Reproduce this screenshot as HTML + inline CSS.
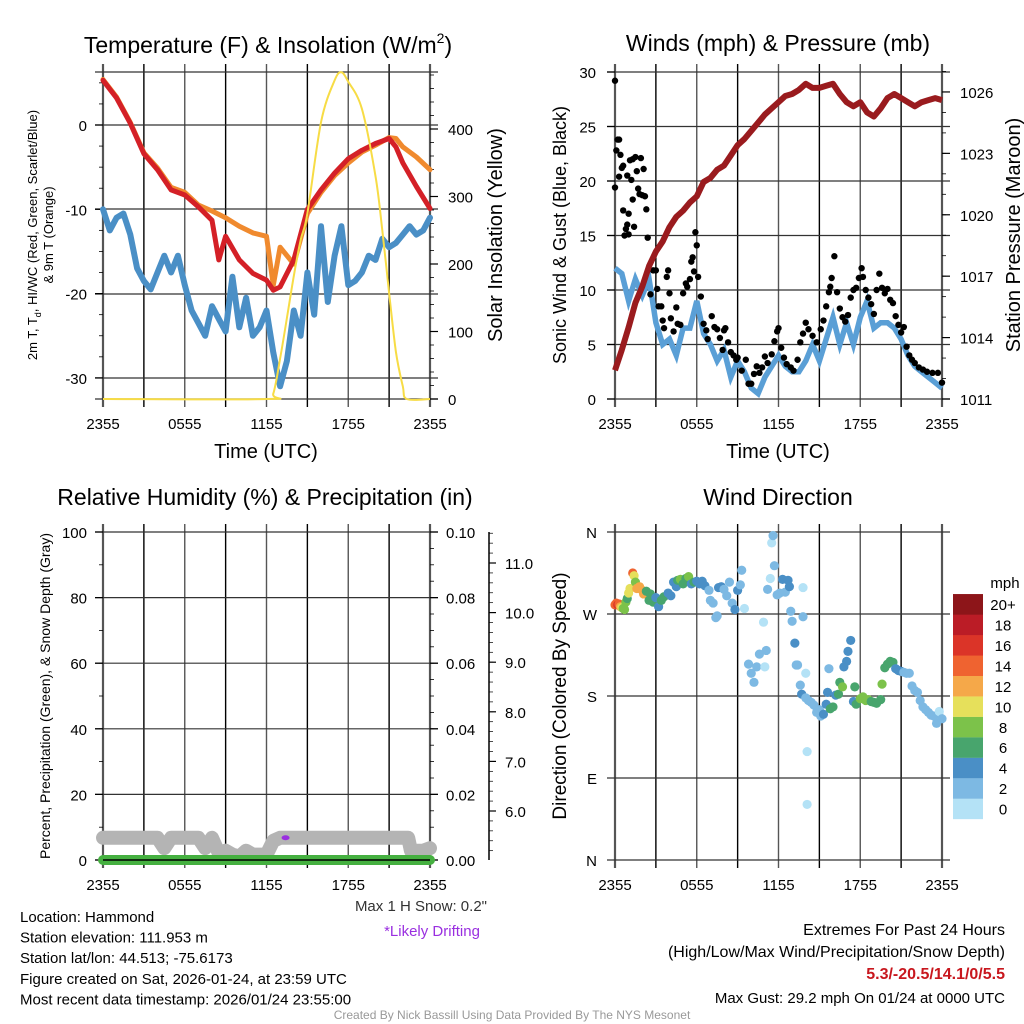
<!DOCTYPE html>
<html><head><meta charset="utf-8">
<style>
html,body{margin:0;padding:0;background:#fff;}
svg{display:block;font-family:"Liberation Sans",sans-serif;}
</style></head>
<body>
<svg id="c" width="1024" height="1024" viewBox="0 0 1024 1024" xmlns="http://www.w3.org/2000/svg"></svg>
<script>
// ---------- DATA ----------
const timeLabels = ["2355","0555","1155","1755","2355"];
const tempTimes = [0,1,2,3,4,5,6,7,8,8.5,9,10,11,12,12.5,13,14,15,16,17,18,19,20,21,21.5,22,23,24];
const tempRed   = [5.3,3.2,0.2,-3.4,-5.3,-7.7,-8.3,-9.7,-11.3,-16,-13.2,-16,-17.6,-18.4,-19.6,-19.2,-16,-10,-7.7,-5.7,-4,-3,-2.2,-1.6,-2.6,-4.5,-7.3,-9.9];
const tempOrange= [5.4,3.3,0.3,-3.3,-5.1,-7.4,-8.0,-9.5,-10.2,-10.6,-11,-12,-12.8,-13.2,-19,-14.5,-16.5,-10.5,-8,-6,-4.5,-3.2,-2.4,-1.5,-1.6,-2.6,-3.8,-5.3];
const dewTimes = [0,0.5,1,1.5,2,2.5,3,3.5,4,4.5,5,5.5,6,6.5,7,7.5,8,8.5,9,9.5,10,10.5,11,11.5,12,12.5,13,13.5,14,14.5,15,15.5,16,16.5,17,17.5,18,18.5,19,19.5,20,20.5,21,21.5,22,22.5,23,23.5,24];
const dewBlue  = [-10,-12.5,-11,-10.5,-13,-17,-18.5,-19.5,-17.5,-15.5,-17.5,-15.5,-19,-22,-23.5,-25,-21.5,-23,-24.5,-18,-24,-20.5,-25,-24,-22,-27,-31,-28,-22,-25,-17.5,-22.5,-12,-21,-15.5,-12,-19,-18.5,-17.5,-15.5,-16,-13.5,-14.5,-14,-13,-12,-13,-12.5,-11];
const solarTimes = [0,12,12.5,13,13.5,14,14.5,15,16,17,17.5,18,19,20,20.5,21,21.5,22,22.3,24];
const solarVals  = [0,0,8,60,120,182,235,275,410,472,484,470,430,330,250,157,70,19,0,0];
const tempTicks = [0,-10,-20,-30];
const solarTicks = [0,100,200,300,400];
const windTimes = [0,0.5,1,1.5,2,2.5,3,3.5,4,4.5,5,5.5,6,6.5,7,7.5,8,8.5,9,9.5,10,10.5,11,11.5,12,12.5,13,13.5,14,14.5,15,15.5,16,16.5,17,17.5,18,18.5,19,19.5,20,20.5,21,21.5,22,22.5,23,23.5,24];
const windSpeed = [12,11.5,9,11,9.5,11,7,5,5.5,4,6.5,6.5,9,6,5,3.5,4.5,2,3.5,2.5,1,0.5,2,3,4,3,2.5,2.5,3.5,5,3.5,5.5,7.5,5,7,5,7.5,9,6.5,7,7,6.5,5.5,4,3,2.5,2,1.5,1];
const pressure  = [1012.4,1013.4,1014.5,1015.7,1016.5,1017.5,1018.2,1018.7,1019.4,1019.9,1020.2,1020.6,1020.9,1021.6,1021.8,1022.2,1022.4,1022.9,1023.4,1023.7,1024.1,1024.5,1024.9,1025.2,1025.5,1025.8,1025.9,1026.1,1026.4,1026.2,1026.2,1026.3,1026.4,1025.9,1025.5,1025.3,1025.5,1025.0,1024.8,1025.2,1025.7,1025.9,1025.7,1025.5,1025.3,1025.5,1025.6,1025.7,1025.6];
const gustTimes = [0,0,0.1,0.2,0.3,0.3,0.4,0.5,0.6,0.6,0.7,0.8,0.9,0.9,1.0,1.0,1.1,1.2,1.3,1.3,1.4,1.5,1.6,1.7,1.8,1.9,2.0,2.1,2.2,2.3,2.4,2.6,2.8,3.0,3.1,3.2,3.4,3.5,3.6,3.8,3.9,4.0,4.1,4.3,4.5,4.6,4.8,5.0,5.2,5.3,5.5,5.6,5.7,5.8,5.9,6.0,6.1,6.3,6.5,6.7,6.8,7.1,7.3,7.5,7.7,7.9,8.0,8.1,8.3,8.5,8.7,8.9,9.0,9.3,9.6,9.8,10.0,10.2,10.4,10.6,10.8,11.0,11.2,11.5,11.7,11.9,12.0,12.2,12.4,12.6,12.9,13.1,13.4,13.6,13.8,14.0,14.2,14.5,14.8,15.1,15.3,15.5,15.7,15.8,15.9,16.1,16.3,16.5,16.7,16.9,17.1,17.3,17.5,17.7,17.9,18.1,18.2,18.4,18.6,18.8,19.0,19.2,19.4,19.6,19.8,20.0,20.2,20.4,20.6,20.8,21.0,21.2,21.4,21.6,21.8,22.0,22.3,22.6,22.9,23.3,23.7,24];
const gustVals  = [29.2,19.4,22.8,23.8,23.8,20.4,22.4,21.2,21.4,17.3,15,15.6,16,20.5,17,15.1,21.9,20.1,22,18.3,15.8,22.2,20.9,19.3,18.8,22.1,18.7,21.1,18.6,17.4,14.8,9.6,11.8,11.8,10.1,8.5,8.5,7.2,6.5,11.2,11.8,9.7,7.4,6.2,8.4,6.9,6.8,9.7,10.6,10.3,11,12.6,13,11.7,15.3,14.1,11.2,9.4,6.9,6.3,5.5,7.6,6.6,6.4,5.6,4.5,6.3,6.5,5.2,4.3,4.0,3.6,3.8,2.6,3.6,1.4,1.4,2.3,3.0,2.4,2.9,3.9,3.3,4.1,5.3,6.2,6.5,4.7,3.8,3.2,2.9,2.6,3.6,5.2,6.0,7.0,6.4,5.8,5.2,6.4,7.2,8.5,9.8,10.3,11.1,13.1,9.8,8.3,7.5,7.1,7.7,9.3,10,10.2,11.1,12,11.2,10,9.3,8.7,7.8,10,11.5,10.2,9.7,10.1,9.1,8.8,7.6,6.8,6.1,6.6,4.8,4.0,3.6,3.3,2.9,2.7,2.5,2.4,2.4,1.5];
const windTicks = [0,5,10,15,20,25,30];
const pressTicks = [1011,1014,1017,1020,1023,1026];
const snowTimes = [0,4,4.5,5,7,7.5,8,8.5,9,9.5,10,10.5,11,12,12.5,13,22,22.4,22.6,23.5,24];
const snowDepth = [5.46,5.46,5.25,5.46,5.46,5.25,5.46,5.15,5.2,5.12,5.08,5.2,5.12,5.12,5.4,5.46,5.46,5.46,5.2,5.2,5.25];
const precipTimes = [0,24];
const precipVals = [0,0];
const rhTicks = [0,20,40,60,80,100];
const precipTicks = ["0.00","0.02","0.04","0.06","0.08","0.10"];
const snowTicks = [6,7,8,9,10,11];
const dirTimes = [0,0.1,0.2,0.3,0.4,0.5,0.6,0.7,0.8,0.9,1.0,1.1,1.3,1.4,1.5,1.6,1.8,2.0,2.1,2.3,2.5,2.6,2.8,3.0,3.2,3.4,3.6,3.9,4.1,4.3,4.5,4.6,4.8,5.0,5.2,5.4,5.6,5.8,6.0,6.2,6.4,6.6,6.9,7.0,7.2,7.4,7.5,7.6,7.8,8.0,8.2,8.4,8.6,8.8,9.0,9.2,9.3,9.5,9.8,10.0,10.2,10.4,10.6,10.9,11.0,11.1,11.2,11.4,11.5,11.6,11.7,11.9,12.1,12.3,12.5,12.7,12.8,12.9,13.0,13.2,13.3,13.4,13.6,13.8,13.7,13.8,14.1,14.0,14.1,14.0,14.2,14.4,14.6,14.8,15.0,15.1,15.3,15.5,15.6,15.7,15.8,16.0,16.2,16.4,16.5,16.7,16.8,17.0,17.1,17.3,17.5,17.6,17.7,18.0,18.2,18.4,18.6,18.8,19.0,19.2,19.5,19.6,19.8,20.0,20.2,20.4,20.6,20.8,21.0,21.2,21.4,21.6,21.8,22.0,22.2,22.4,22.6,22.8,23.0,23.2,23.4,23.6,23.8,24];
const dirDeg = [280,282,280,281,278,277,276,275,283,287,293,298,315,312,305,298,300,296,292,295,285,292,283,288,278,285,289,293,290,305,300,307,308,303,309,311,303,305,306,303,306,301,296,285,282,266,268,299,300,297,290,305,282,275,296,302,318,276,215,205,195,212,226,261,212,230,297,309,348,356,323,291,293,308,294,307,300,273,262,238,214,214,192,299,182,267,119,205,61,178,175,173,170,162,165,158,160,171,184,210,166,168,181,182,195,190,212,218,229,241,174,190,171,177,179,175,176,174,173,172,176,193,211,215,218,217,210,208,207,206,205,205,191,186,184,175,168,165,162,159,158,150,163,155];
const dirSpeed = [14,15,16,14,12,10,9,8,8,7,10,11,14,10,9,12,12,13,12,6,6,7,6,5,4,6,6,5,4,4,5,6,8,6,7,9,4,7,4,4,4,4,2,2,3,2,3,4,4,2,2,3,2,4,4,2,2,1,3,2,2,2,2,1,1,3,3,1,1,2,2,2,3,4,3,4,4,3,3,4,3,2,3,1,4,2,1,1,1,2,2,2,2,2,3,3,4,4,4,2,7,7,4,6,6,8,4,4,4,4,4,6,6,8,8,8,8,6,6,6,6,8,6,6,6,6,4,4,4,2,2,2,2,2,2,2,2,2,2,2,2,2,1,2,2];
const speedBins = ["0","2","4","6","8","10","12","14","16","18","20+"];
const binColors = ["#b4e2f6","#7db9e3","#4a8fc6","#48a56d","#7cc24a","#e6e05b","#f5a849","#ef6330","#db3428","#bb1c26","#8d1519"];

// ---------- HELPERS ----------
const S = document.getElementById('c');
const NS = "http://www.w3.org/2000/svg";
function mk(tag, attrs, parent){
  const e = document.createElementNS(NS, tag);
  for (const k in attrs) e.setAttribute(k, attrs[k]);
  (parent||S).appendChild(e);
  return e;
}
function txt(x,y,s,size,anchor,extra){
  const e = mk('text', Object.assign({x:x,y:y,'font-size':size,'text-anchor':anchor||'middle',fill:'#000'}, extra||{}));
  e.textContent = s;
  return e;
}
function line(x1,y1,x2,y2,col,w,p){ return mk('line',{x1:x1,y1:y1,x2:x2,y2:y2,stroke:col,'stroke-width':w},p); }
function pathFrom(xs,ys,fx,fy){ return xs.map((t,i)=>(i?'L':'M')+fx(t).toFixed(1)+','+fy(ys[i]).toFixed(1)).join(''); }
function smoothPath(xs,ys,fx,fy){
  const P = xs.map((t,i)=>[fx(t),fy(ys[i])]);
  let d = 'M'+P[0][0].toFixed(1)+','+P[0][1].toFixed(1);
  for (let i=0;i<P.length-1;i++){
    const p0=P[Math.max(0,i-1)], p1=P[i], p2=P[i+1], p3=P[Math.min(P.length-1,i+2)];
    const c1=[p1[0]+(p2[0]-p0[0])/6, p1[1]+(p2[1]-p0[1])/6];
    const c2=[p2[0]-(p3[0]-p1[0])/6, p2[1]-(p3[1]-p1[1])/6];
    d += 'C'+c1.map(v=>v.toFixed(1)).join(',')+' '+c2.map(v=>v.toFixed(1)).join(',')+' '+p2[0].toFixed(1)+','+p2[1].toFixed(1);
  }
  return d;
}

const X0 = {tl:103, tr:615, bl:103, br:615};
const PW = 327;
function xs(panel){ return t => X0[panel] + t*PW/24; }

function grid(panel, top, bot, hys, gname){
  const g = mk('g',{});
  
  
  const fx = xs(panel);
  for (let i=0;i<=8;i++){
    const x = fx(i*3);
    line(x, top-8, x, bot+8, (i%2)?'#000':'#555', (i===0||i===8)?2.2:1.4, g);
  }
  hys.forEach(y=>line(fx(0)-8,y,fx(24)+8,y,'#333',1.2,g));
  for (let i=0;i<5;i++){
    const tl = txt(fx(i*6), bot+30, timeLabels[i], 15);
    
    
  }
  return g;
}

// ---------- TITLES ----------
let t;
t = txt(268,53,'Temperature (F) & Insolation (W/m',23);
const sup = mk('tspan',{dy:-10,'font-size':14}, t); sup.textContent='2';
const cl = mk('tspan',{dy:10}, t); cl.textContent=')';
 
t = txt(778,51,'Winds (mph) & Pressure (mb)',23);
 
t = txt(265,505,'Relative Humidity (%) & Precipitation (in)',23);
 
t = txt(778,505,'Wind Direction',23);
 

// ---------- TOP-LEFT ----------
{
  const fx = xs('tl');
  const fy = v => 125 - v*8.43;
  const fs = v => 399 - v*0.675;
  grid('tl', 72, 399, [72,125,209,294,378,399], 'temperature-grid');
  tempTicks.forEach(v=>{ line(95,fy(v),103,fy(v),'#000',1.2); const e=txt(87,fy(v)+6,String(v),15,'end');  });
  for (let v=-30; v<=5; v+=2.5) line(99,fy(v),103,fy(v),'#000',0.8);
  solarTicks.forEach(v=>{ line(430,fs(v),438,fs(v),'#000',1.2); const e=txt(448,fs(v)+6,String(v),15,'start');  });
  for (let v=0; v<=480; v+=20) line(430,fs(v),434,fs(v),'#000',0.8);
  let p;
  p = mk('path',{d:pathFrom(dewTimes,dewBlue,fx,fy),fill:'none',stroke:'#4a8fc6','stroke-width':6,'stroke-linejoin':'round','stroke-linecap':'round'});
   
  p = mk('path',{d:pathFrom(tempTimes,tempOrange,fx,fy),fill:'none',stroke:'#f08a2e','stroke-width':5,'stroke-linejoin':'round','stroke-linecap':'round'});
   
  p = mk('path',{d:pathFrom(tempTimes,tempRed,fx,fy),fill:'none',stroke:'#d42027','stroke-width':5,'stroke-linejoin':'round','stroke-linecap':'round'});
   
  p = mk('path',{d:smoothPath(solarTimes,solarVals,fx,fs),fill:'none',stroke:'#f7dc45','stroke-width':2});
   
  t = txt(266,458,'Time (UTC)',20);  
  const yl = mk('text',{transform:'translate(37,235) rotate(-90)','font-size':13,'text-anchor':'middle'});
   
  yl.textContent='2m T, T';
  const sb = mk('tspan',{dy:4,'font-size':9},yl); sb.textContent='d';
  const rest = mk('tspan',{dy:-4},yl); rest.textContent=', HI/WC (Red, Green, Scarlet/Blue)';
  const yl2 = txt(0,0,'& 9m T (Orange)',13,'middle',{transform:'translate(53,235) rotate(-90)'});
   
  t = txt(0,0,'Solar Insolation (Yellow)',20,'middle',{transform:'translate(502,235) rotate(-90)'});
   
}

// ---------- TOP-RIGHT ----------
{
  const fx = xs('tr');
  const fy = v => 399 - v*10.9;
  const fp = v => 399 - (v-1011)*20.47;
  grid('tr', 72, 399, windTicks.map(fy), 'winds-grid');
  windTicks.forEach(v=>{ line(607,fy(v),615,fy(v),'#000',1.2); const e=txt(596,fy(v)+6,String(v),15,'end');  });
  pressTicks.forEach(v=>{ line(942,fp(v),950,fp(v),'#000',1.2); const e=txt(960,fp(v)+6,String(v),15,'start');  });
  for (let v=1011; v<=1027; v+=1) line(942,fp(v),946,fp(v),'#000',0.8);
  let p = mk('path',{d:pathFrom(windTimes,windSpeed,fx,fy),fill:'none',stroke:'#5a9fd6','stroke-width':5.5,'stroke-linejoin':'miter'});
   
  const gg = mk('g',{});
   
  gustTimes.forEach((tt,i)=>{
    const c = mk('circle',{cx:fx(tt),cy:fy(gustVals[i]),r:3.2,fill:'#000'},gg);
    
    
  });
  p = mk('path',{d:pathFrom(windTimes,pressure,fx,fp),fill:'none',stroke:'#9a1b1e','stroke-width':6,'stroke-linejoin':'round'});
   
  t = txt(778,458,'Time (UTC)',20);  
  t = txt(0,0,'Sonic Wind & Gust (Blue, Black)',18,'middle',{transform:'translate(566,235) rotate(-90)'});
   
  t = txt(0,0,'Station Pressure (Maroon)',20,'middle',{transform:'translate(1020,235) rotate(-90)'});
   
}

// ---------- BOTTOM-LEFT ----------
{
  const fx = xs('bl');
  const fy = v => 860 - v*3.28;
  const fsn = v => 811 - (v-6)*49.6;
  grid('bl', 532, 860, rhTicks.map(fy), 'humidity-grid');
  rhTicks.forEach((v,i)=>{ line(95,fy(v),103,fy(v),'#000',1.2); const e=txt(87,fy(v)+6,String(v),15,'end');  
    line(430,fy(v),438,fy(v),'#000',1.2); const f=txt(446,fy(v)+6,precipTicks[i],15,'start');  });
  for (let v=0; v<=100; v+=10) line(99,fy(v),103,fy(v),'#000',0.8);
  for (let v=0; v<=100; v+=5) line(430,fy(v),434,fy(v),'#000',0.8);
  line(489,532,489,860,'#000',1.5);
  snowTicks.forEach(v=>{ line(489,fsn(v),496,fsn(v),'#000',1.2); const e=txt(505,fsn(v)+6,v.toFixed(1),15,'start');  });
  for (let v=5.2; v<=11.6; v+=0.2) line(489,fsn(v),493,fsn(v),'#000',0.7);
  let p = mk('path',{d:pathFrom(snowTimes,snowDepth,fx,fsn),fill:'none',stroke:'#b4b4b4','stroke-width':14,'stroke-linejoin':'round','stroke-linecap':'round'});
   
  p = mk('path',{d:pathFrom(precipTimes,precipVals,fx,fy),fill:'none',stroke:'#45b040','stroke-width':10,'stroke-linecap':'round'});
   
  line(103,860,430,860,'#000',1.5);
  const d = mk('ellipse',{cx:fx(13.4),cy:fsn(5.46),rx:4,ry:2.5,fill:'#9a2fe0'});
   
  t = txt(0,0,'Percent, Precipitation (Green), & Snow Depth (Gray)',14,'middle',{transform:'translate(50,696) rotate(-90)'});
   
  t = txt(487,911,'Max 1 H Snow: 0.2"',15,'end',{fill:'#333'});  
  t = txt(432,936,'*Likely Drifting',15,'middle',{fill:'#9a2fe0'});  
}

// ---------- BOTTOM-RIGHT ----------
{
  const fx = xs('br');
  const fy = d => 860 - d*328/360;
  const dirLabels = ["N","E","S","W","N"];
  grid('br', 532, 860, [0,90,180,270,360].map(fy), 'direction-grid');
  dirLabels.forEach((s,i)=>{ const e=txt(597,fy(i*90)+6,s,15,'end');  });
  const gg = mk('g',{});
   
  dirTimes.forEach((tt,i)=>{
    const b = Math.min(10, Math.floor(dirSpeed[i]/2));
    const c = mk('circle',{cx:fx(tt),cy:fy(dirDeg[i]),r:4.6,fill:binColors[b]},gg);
    
    
  });
  t = txt(0,0,'Direction (Colored By Speed)',19,'middle',{transform:'translate(566,696) rotate(-90)'});
   
  const cb = mk('g',{});
   
  speedBins.forEach((s,i)=>{
    const y = 819 - (i+1)*20.45;
    mk('rect',{x:953,y:y,width:30,height:20.6,fill:binColors[i]},cb);
    const e = txt(1003,y+16,s,15,'middle');
     
  });
  t = txt(1005,588,'mph',15,'middle');  
}

// ---------- FOOTER ----------
const info = ["Location: Hammond","Station elevation: 111.953 m","Station lat/lon: 44.513; -75.6173","Figure created on Sat, 2026-01-24, at 23:59 UTC","Most recent data timestamp: 2026/01/24 23:55:00"];
info.forEach((s,i)=>{ const e=txt(20,922+i*20.6,s,15,'start');  });
t = txt(1005,935,'Extremes For Past 24 Hours',16,'end');  
t = txt(1005,957,'(High/Low/Max Wind/Precipitation/Snow Depth)',16,'end');  
t = txt(1005,979,'5.3/-20.5/14.1/0/5.5',16,'end',{fill:'#c8171e','font-weight':'bold'});  
t = txt(1005,1003,'Max Gust: 29.2 mph On 01/24 at 0000 UTC',15,'end');  
t = txt(512,1019,'Created By Nick Bassill Using Data Provided By The NYS Mesonet',12,'middle',{fill:'#999'});  
</script>
</body></html>
